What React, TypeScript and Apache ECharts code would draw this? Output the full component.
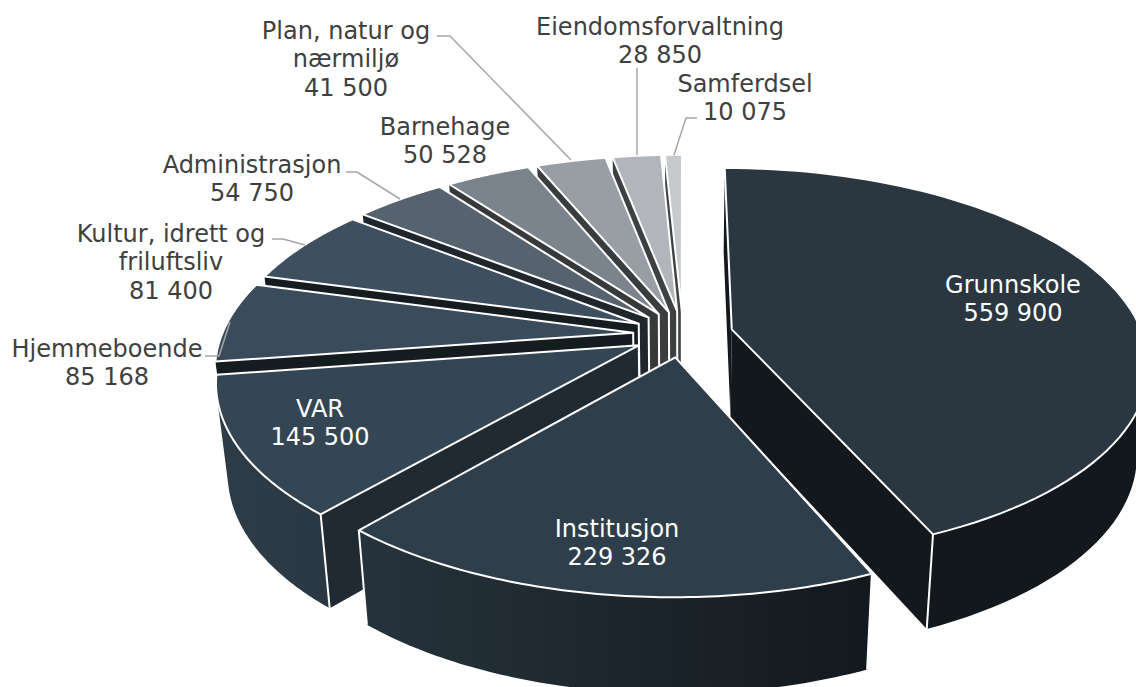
import React, { useEffect, useRef } from "react";
import * as echarts from "echarts";

const categories = ["Grunnskole","Institusjon","VAR","Hjemmeboende","Kultur, idrett og\nfriluftsliv","Administrasjon","Barnehage","Plan, natur og\nnærmiljø","Eiendomsforvaltning","Samferdsel"];
const values = [559900,229326,145500,85168,81400,54750,50528,41500,28850,10075];

const topColors = ["#2a3740","#2e3e4a","#344553","#3a4c5b","#3e5060","#56636f","#7b838c","#999da4","#b2b5b9","#c6cacd"];
const radialColors = ["#12181b","#141b20","#1f2a32","#151c20","#151c20","#1f272c","#38393b","#3a3c3e","#3e4042","#404244"];
const outerColors = [["#12181b","#12181b"],["#26333c","#13191d"],["#2e3c47","#2a3843"],["#1a2228","#1a2228"],["#1a2228","#1a2228"],["#2a3035","#2a3035"],["#38393b","#38393b"],["#3a3c3e","#3a3c3e"],["#3e4042","#3e4042"],["#404244","#404244"]];
const apexEdge = [false,true,true,true,true,true,true,true,true,true];

const drawOrder = [9,8,7,6,5,4,0,3,2,1];
const labelAnchors: number[][] = [[1013,299],[617,543],[320,423],[107,363],[171,262],[252,179],[445,141],[346,59],[660,41],[745,98]];
const labelColors = ["#ffffff","#ffffff","#ffffff","#404040","#404040","#404040","#404040","#404040","#404040","#404040"];
const leaders: (number[][] | null)[] = [null,null,null,
  [[205,356],[219,356],[230,322]],
  [[272,239],[283,239],[305,245]],
  [[346,172],[357,172],[400,199]],
  null,
  [[437,36],[450,36],[571,160]],
  [[637,68],[637,155]],
  [[697,118],[686,118],[674,155]],
];

const CX = 683, CY = 334, R = 411, EXPLODE = 50, K = 0.000413, T = 0.463;
const BOTTOM_X = 0.975, BOTTOM_Y = 1.03, BOTTOM_C = 422.6;
const EDGE = 2;

const total = values.reduce((a, b) => a + b, 0);
const fmt = (v: number) => String(v).replace(/\B(?=(\d{3})+$)/g, " ");
const rad = (v: number) => (v / total) * Math.PI * 2;

function proj(X: number, Z: number) {
  const s = 1 / (1 + K * Z);
  return [CX + X * s, CY - T * Z * s];
}
const lower = (p: number[]) => [CX + (p[0] - CX) * BOTTOM_X, BOTTOM_C + (p[1] - CY) * BOTTOM_Y];
const area = (pts: number[][]) => {
  let a = 0;
  pts.forEach((p, i) => {
    const q = pts[(i + 1) % pts.length];
    a += p[0] * q[1] - q[0] * p[1];
  });
  return a / 2;
};

function renderSlice(params: any) {
  const i = drawOrder[params.dataIndex];
  const start = values.slice(0, i).reduce((a, v) => a + rad(v), 0);
  const sweep = rad(values[i]);
  const mid = start + sweep / 2;
  const ox = EXPLODE * Math.sin(mid), oz = EXPLODE * Math.cos(mid);
  const N = 80;
  const rim: number[][] = [];
  for (let k = 0; k <= N; k++) {
    const t = start + (sweep * k) / N;
    rim.push(proj(ox + R * Math.sin(t), oz + R * Math.cos(t)));
  }
  const apex = proj(ox, oz);
  const children: any[] = [];
  const poly = (points: number[][], fill: any) => ({ type: "polygon", shape: { points }, style: { fill, stroke: "none" } });
  const w1 = [apex, rim[0], lower(rim[0]), lower(apex)];
  const w2 = [rim[N], apex, lower(apex), lower(rim[N])];
  // faces turned away from the viewer go first, so the facing ones lie over them
  [w1, w2].sort((a, b) => area(b) - area(a)).forEach((w) => children.push(poly(w, radialColors[i])));
  const front: number[][] = [];
  let firstFacing = false, lastFacing = false;
  for (let k = 0; k < N; k++) {
    const q = [rim[k], rim[k + 1], lower(rim[k + 1]), lower(rim[k])];
    const facing = area(q) < 0;
    if (facing) {
      if (!front.length) front.push(rim[k]);
      front.push(rim[k + 1]);
      if (k === 0) firstFacing = true;
      if (k === N - 1) lastFacing = true;
    }
  }
  if (front.length) {
    const wall = front.concat(front.slice().reverse().map(lower));
    children.push(poly(wall, new echarts.graphic.LinearGradient(0, 0, 1, 0, [
      { offset: 0, color: outerColors[i][0] },
      { offset: 1, color: outerColors[i][1] },
    ])));
  }
  const corners: number[][] = [];
  if (firstFacing) corners.push(rim[0]);
  if (lastFacing) corners.push(rim[N]);
  if (apexEdge[i]) corners.push(apex);
  corners.forEach((p) => {
    const b = lower(p);
    children.push({ type: "line", shape: { x1: p[0], y1: p[1], x2: b[0], y2: b[1] }, style: { stroke: "#ffffff", lineWidth: EDGE } });
  });
  children.push({ type: "polygon", shape: { points: [apex, ...rim] }, style: { fill: topColors[i], stroke: "#ffffff", lineWidth: EDGE, lineJoin: "round" } });
  return { type: "group", children };
}

function renderLabel(params: any) {
  const i = params.dataIndex;
  const children: any[] = [];
  const l = leaders[i];
  if (l) children.push({ type: "polyline", shape: { points: l }, style: { stroke: "#a6a6a6", lineWidth: 1.5, fill: "none" } });
  children.push({
    type: "text",
    style: {
      text: `${categories[i]}\n${fmt(values[i])}`,
      x: labelAnchors[i][0], y: labelAnchors[i][1],
      align: "center", verticalAlign: "middle",
      fill: labelColors[i], fontFamily: "DejaVu Sans", fontSize: 24, lineHeight: 28.5,
    },
  });
  return { type: "group", children };
}

export default function App() {
  const ref = useRef<HTMLDivElement>(null);
  useEffect(() => {
    document.body.style.margin = "0";
    const chart = echarts.init(ref.current!, null, { renderer: "svg" });
    chart.setOption({
      animation: false,
      backgroundColor: "#ffffff",
      series: [
        { type: "custom", coordinateSystem: "none", silent: true, z: 2, data: drawOrder.map((i) => [values[i]]), renderItem: renderSlice },
        { type: "custom", coordinateSystem: "none", silent: true, z: 3, data: values.map((v) => [v]), renderItem: renderLabel },
      ],
    });
    return () => chart.dispose();
  }, []);
  return <div ref={ref} style={{ width: 1136, height: 687 }} />;
}
